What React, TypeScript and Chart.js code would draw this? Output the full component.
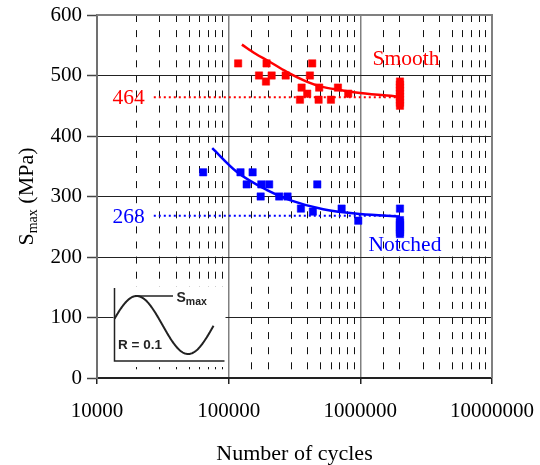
import React, { useEffect, useRef } from 'react';
import { Chart, registerables } from 'chart.js';

Chart.register(...registerables);

// ---- data ----
const smoothCycles = [118000, 194000, 170000, 192000, 212000, 271000, 431000, 414000, 358000, 395000, 348000, 487000, 482000, 598000, 676000, 809000, 2000000, 2000000, 2000000, 2000000, 2000000, 2000000, 2000000, 2000000, 2000000];
const smoothStress = [520, 520, 500, 490, 500, 500, 520, 500, 480, 470, 460, 480, 460, 460, 480, 470, 490, 485, 480, 475, 470, 465, 460, 455, 450];

const notchedCycles = [64000, 123000, 152000, 137000, 177000, 203000, 471000, 175000, 242000, 280000, 354000, 436000, 721000, 964000, 2000000, 2000000, 2000000, 2000000, 2000000, 2000000, 2000000, 2000000];
const notchedStress = [340, 340, 340, 320, 320, 320, 320, 300, 300, 300, 280, 275, 280, 260, 280, 261, 257, 253, 249, 245, 241, 238];

const smoothFitCycles = [126000, 160000, 200000, 276000, 391000, 500000, 700000, 1000000, 2000000];
const smoothFitStress = [551, 536, 524, 506, 490, 482, 476, 471, 465];

const notchedFitCycles = [75000, 115000, 194000, 292000, 522000, 1000000, 2000000];
const notchedFitStress = [380, 341, 311, 294, 279, 271, 267];

const limitCycles = [27000, 2000000];
const smoothLimit = 464;
const notchedLimit = 268;

const xTickLabels = [10000, 100000, 1000000, 10000000];
const yTicks = [0, 100, 200, 300, 400, 500, 600];

const RED = '#ff0000';
const BLUE = '#0000ff';
const SERIF = '"Liberation Serif", "Times New Roman", serif';
const SANS = '"Liberation Sans", Arial, sans-serif';

const pts = (xs: number[], ys: number[]) => xs.map((x, i) => ({ x, y: ys[i] }));
const isDecade = (v: number) => {
  const lg = Math.log10(v);
  return Math.abs(lg - Math.round(lg)) < 1e-9;
};

const decorPlugin = {
  id: 'decor',
  beforeDatasetsDraw(chart: any) {
    const { ctx, chartArea: a } = chart;
    ctx.save();
    // inset box
    const L = a.left + 17.5, T = a.top + 273, R = a.left + 127.5, B = a.top + 346;
    ctx.fillStyle = '#ffffff';
    ctx.fillRect(L - 1, T - 1, R - L + 2, B - T + 7);
    ctx.strokeStyle = '#222';
    ctx.lineWidth = 1.5;
    ctx.beginPath();
    ctx.moveTo(L, T);
    ctx.lineTo(L, B);
    ctx.lineTo(R, B);
    ctx.stroke();
    // sine wave
    const yc = a.top + 310, amp = 29, xPeak = a.left + 39.7, period = 103;
    ctx.lineWidth = 2;
    ctx.beginPath();
    for (let x = L; x <= a.left + 116.5; x += 0.5) {
      const y = yc - amp * Math.cos((2 * Math.PI * (x - xPeak)) / period);
      if (x === L) ctx.moveTo(x, y); else ctx.lineTo(x, y);
    }
    ctx.stroke();
    ctx.lineWidth = 1.5;
    ctx.beginPath();
    ctx.moveTo(xPeak, yc - amp);
    ctx.lineTo(a.left + 76, yc - amp);
    ctx.stroke();
    ctx.fillStyle = '#222';
    ctx.textBaseline = 'alphabetic';
    ctx.textAlign = 'left';
    ctx.font = `bold 14px ${SANS}`;
    ctx.fillText('S', a.left + 79.5, a.top + 286.7);
    const wS = ctx.measureText('S').width;
    ctx.font = `bold 10.5px ${SANS}`;
    ctx.fillText('max', a.left + 79.5 + wS, a.top + 289.5);
    ctx.font = `bold 13.5px ${SANS}`;
    ctx.fillText('R = 0.1', a.left + 21, a.top + 334.3);
    // top and right frame
    ctx.strokeStyle = '#808080';
    ctx.lineWidth = 2;
    ctx.beginPath();
    ctx.moveTo(a.left, a.top);
    ctx.lineTo(a.right, a.top);
    ctx.lineTo(a.right, a.bottom);
    ctx.stroke();
    ctx.restore();
  },
  afterDraw(chart: any) {
    const { ctx, chartArea: a, scales } = chart;
    const xs = scales.x, ys = scales.y;
    ctx.save();
    ctx.textBaseline = 'middle';
    // limit value labels
    ctx.font = `21.5px ${SERIF}`;
    ctx.textAlign = 'right';
    ctx.fillStyle = RED;
    ctx.fillText(String(smoothLimit), xs.getPixelForValue(limitCycles[0]) - 9, ys.getPixelForValue(smoothLimit) + 1);
    ctx.fillStyle = BLUE;
    ctx.fillText(String(notchedLimit), xs.getPixelForValue(limitCycles[0]) - 9, ys.getPixelForValue(notchedLimit) + 1);
    // series labels
    ctx.textAlign = 'center';
    ctx.fillStyle = RED;
    ctx.fillText('Smooth', xs.getPixelForValue(limitCycles[1]) + 6, ys.getPixelForValue(526));
    ctx.fillStyle = BLUE;
    ctx.fillText('Notched', xs.getPixelForValue(limitCycles[1]) + 5, ys.getPixelForValue(220));
    // x title
    ctx.fillStyle = '#000';
    ctx.textBaseline = 'alphabetic';
    ctx.font = `22px ${SERIF}`;
    ctx.fillText('Number of cycles', (a.left + a.right) / 2, 460);
    // y title with subscript
    ctx.translate(33, (a.top + a.bottom) / 2);
    ctx.rotate(-Math.PI / 2);
    ctx.textAlign = 'left';
    const big = `22px ${SERIF}`, small = `14px ${SERIF}`;
    ctx.font = big;
    const w1 = ctx.measureText('S').width;
    const w3 = ctx.measureText(' (MPa)').width;
    ctx.font = small;
    const w2 = ctx.measureText('max').width;
    let x0 = -(w1 + w2 + w3) / 2;
    ctx.font = big;
    ctx.fillText('S', x0, 0);
    ctx.font = small;
    ctx.fillText('max', x0 + w1, 4);
    ctx.font = big;
    ctx.fillText(' (MPa)', x0 + w1 + w2, 0);
    ctx.restore();
  },
};

export default function App() {
  const ref = useRef<HTMLCanvasElement | null>(null);
  useEffect(() => {
    if (!ref.current) return;
    Chart.defaults.font.family = SERIF;
    Chart.defaults.color = '#000';
    const tickFont = { family: SERIF, size: 21 };
    const chart = new Chart(ref.current, {
      type: 'scatter',
      data: {
        datasets: [
          {
            label: 'Smooth limit',
            data: pts(limitCycles, [smoothLimit, smoothLimit]),
            showLine: true,
            borderColor: RED,
            borderWidth: 2,
            borderDash: [2, 3],
            pointRadius: 0,
          },
          {
            label: 'Notched limit',
            data: pts(limitCycles, [notchedLimit, notchedLimit]),
            showLine: true,
            borderColor: BLUE,
            borderWidth: 2,
            borderDash: [2, 3],
            pointRadius: 0,
          },
          {
            label: 'Smooth',
            data: pts(smoothCycles, smoothStress),
            pointStyle: 'rect',
            pointRadius: 5.2,
            backgroundColor: RED,
            borderColor: RED,
            borderWidth: 0.5,
          },
          {
            label: 'Notched',
            data: pts(notchedCycles, notchedStress),
            pointStyle: 'rect',
            pointRadius: 5.2,
            backgroundColor: BLUE,
            borderColor: BLUE,
            borderWidth: 0.5,
          },
          {
            label: 'Smooth fit',
            data: pts(smoothFitCycles, smoothFitStress),
            showLine: true,
            borderColor: RED,
            borderWidth: 2.5,
            pointRadius: 0,
            cubicInterpolationMode: 'monotone',
          },
          {
            label: 'Notched fit',
            data: pts(notchedFitCycles, notchedFitStress),
            showLine: true,
            borderColor: BLUE,
            borderWidth: 2.5,
            pointRadius: 0,
            cubicInterpolationMode: 'monotone',
          },
        ],
      } as any,
      options: {
        animation: false,
        responsive: false,
        layout: { padding: { left: 0, top: 15, right: 48, bottom: 0 } },
        plugins: { legend: { display: false }, tooltip: { enabled: false } },
        scales: {
          x: {
            type: 'logarithmic',
            position: 'bottom',
            min: 10000,
            max: 10000000,
            afterFit: (s: any) => {
              s.height = 87;
              s.paddingLeft = 0;
              s.paddingRight = 0;
            },
            ticks: {
              autoSkip: false,
              maxRotation: 0,
              padding: 15,
              font: tickFont,
              color: '#000',
              callback: (v: any) => {
                const t = xTickLabels.find((k) => Math.abs(k - Number(v)) < k * 1e-6);
                return t ? String(t) : '';
              },
            },
            grid: {
              color: (c: any) => (c.tick && isDecade(c.tick.value) ? '#808080' : '#111'),
              lineWidth: (c: any) => (c.tick && isDecade(c.tick.value) ? 1.5 : 1),
              tickLength: 6,
              tickColor: (c: any) => (c.tick && isDecade(c.tick.value) ? '#222' : 'rgba(0,0,0,0)'),
              tickWidth: 1.5,
            },
            border: {
              color: '#222',
              width: 1.5,
              dash: (c: any) => (c.tick && !isDecade(c.tick.value) ? [7, 8.1] : []),
            },
          } as any,
          y: {
            min: 0,
            max: 600,
            afterFit: (s: any) => {
              s.width = 97;
              s.paddingTop = 0;
              s.paddingBottom = 0;
            },
            afterBuildTicks: (s: any) => { s.ticks = yTicks.map((v) => ({ value: v })); },
            ticks: {
              stepSize: 100,
              padding: 5,
              font: tickFont,
              color: '#000',
            },
            grid: {
              color: '#222',
              lineWidth: 1,
              tickLength: 10,
              tickColor: '#444',
              tickWidth: 1.5,
            },
            border: { color: '#707070', width: 2 },
          } as any,
        },
      },
      plugins: [decorPlugin],
    });
    return () => chart.destroy();
  }, []);
  return (
    <div style={{ position: 'fixed', left: 0, top: 0, width: 540, height: 465, background: '#fff' }}>
      <canvas ref={ref} width={540} height={465} />
    </div>
  );
}
